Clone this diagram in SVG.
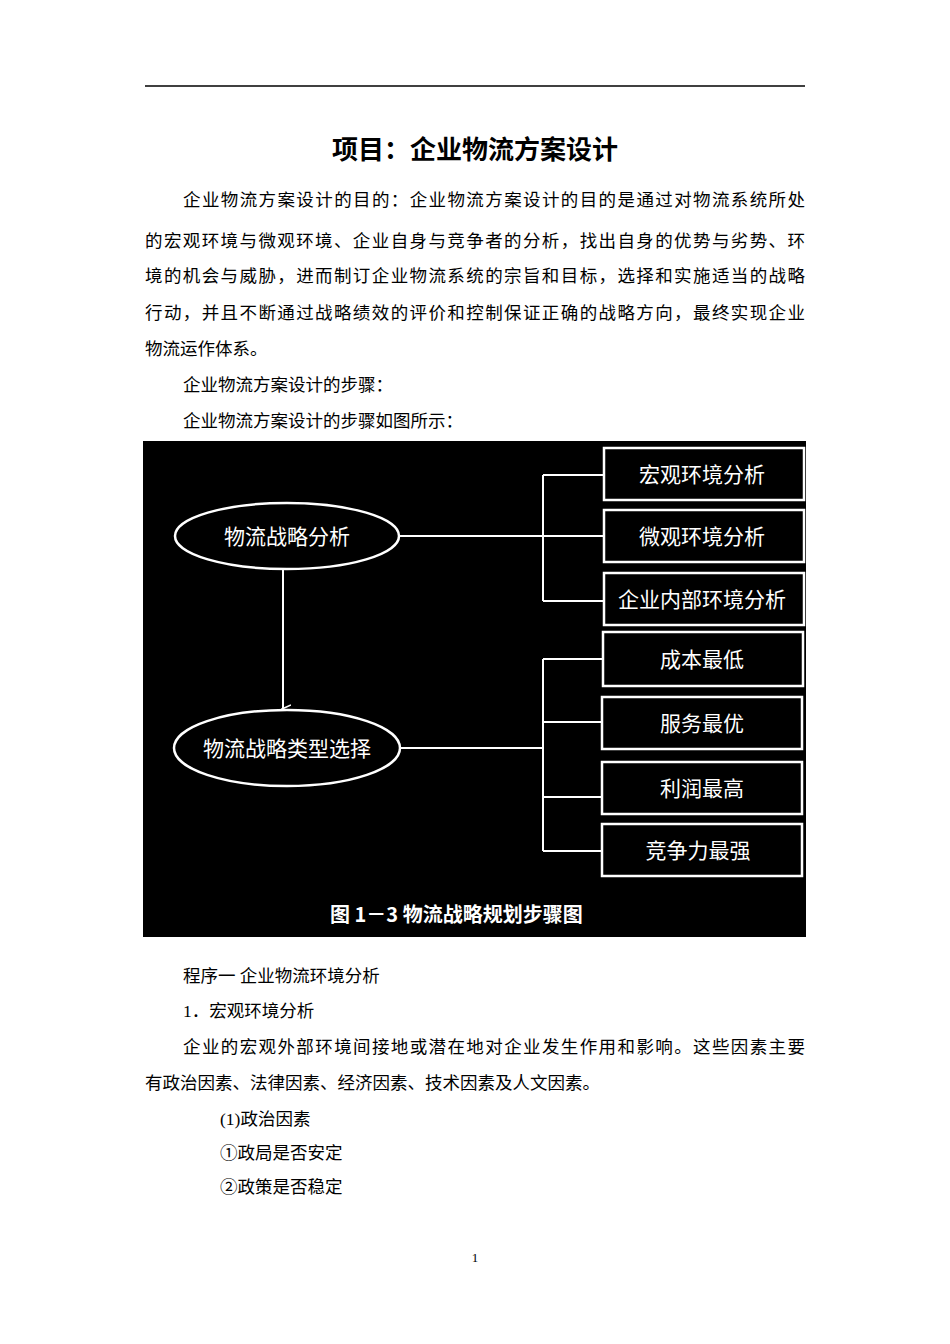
<svg xmlns="http://www.w3.org/2000/svg" width="950" height="1344" viewBox="0 0 950 1344">
<style>
.b{font-family:"Liberation Serif","Noto Sans CJK SC",serif;font-size:17.5px;fill:#000}
.n{font-family:"Noto Sans CJK SC",sans-serif;font-size:21px;fill:#fff;text-anchor:middle}
.box{fill:#000;stroke:#fff;stroke-width:2.5}
.c{stroke:#fff;stroke-width:2;fill:none}
</style>
<defs><marker id="a" markerWidth="10" markerHeight="10" refX="5" refY="8" orient="auto" markerUnits="userSpaceOnUse"><path d="M1,0 L5,9 L9,0" fill="none" stroke="#fff" stroke-width="1.5"/></marker></defs>
<rect width="950" height="1344" fill="#fff"/>
<line x1="145" y1="86" x2="805" y2="86" stroke="#000" stroke-width="1.5"/>
<text x="475" y="159" text-anchor="middle" style="font-family:'Noto Sans CJK SC',sans-serif;font-size:26px;font-weight:bold">项目：企业物流方案设计</text>
<text class="b" x="183" y="206" textLength="622">企业物流方案设计的目的：企业物流方案设计的目的是通过对物流系统所处</text>
<text class="b" x="145" y="247" textLength="660">的宏观环境与微观环境、企业自身与竞争者的分析，找出自身的优势与劣势、环</text>
<text class="b" x="145" y="282" textLength="660">境的机会与威胁，进而制订企业物流系统的宗旨和目标，选择和实施适当的战略</text>
<text class="b" x="145" y="319" textLength="660">行动，并且不断通过战略绩效的评价和控制保证正确的战略方向，最终实现企业</text>
<text class="b" x="145" y="355">物流运作体系。</text>
<text class="b" x="183" y="391">企业物流方案设计的步骤：</text>
<text class="b" x="183" y="427">企业物流方案设计的步骤如图所示：</text>
<rect x="143" y="441" width="663" height="496" fill="#000"/>
<g id="connectors">
<line class="c" x1="399" y1="536" x2="604" y2="536"/>
<line class="c" x1="543" y1="475" x2="543" y2="601"/>
<line class="c" x1="543" y1="475" x2="604" y2="475"/>
<line class="c" x1="543" y1="601" x2="604" y2="601"/>
<line class="c" x1="400" y1="748" x2="543" y2="748"/>
<line class="c" x1="543" y1="659" x2="543" y2="851"/>
<line class="c" x1="543" y1="659" x2="603" y2="659"/>
<line class="c" x1="543" y1="722" x2="602" y2="722"/>
<line class="c" x1="543" y1="797" x2="602" y2="797"/>
<line class="c" x1="543" y1="851" x2="602" y2="851"/>
<line class="c" x1="283" y1="570" x2="283" y2="709" marker-end="url(#a)"/>
</g>
<g id="e1"><ellipse class="box" cx="287" cy="536" rx="112" ry="33"/><text class="n" x="287" y="544">物流战略分析</text></g>
<g id="e2"><ellipse class="box" cx="287" cy="748" rx="113" ry="38"/><text class="n" x="287" y="756">物流战略类型选择</text></g>
<g id="b1"><rect class="box" x="604" y="448" width="200" height="52"/><text class="n" x="702" y="482">宏观环境分析</text></g>
<g id="b2"><rect class="box" x="604" y="510" width="200" height="52"/><text class="n" x="702" y="544">微观环境分析</text></g>
<g id="b3"><rect class="box" x="604" y="573" width="200" height="52"/><text class="n" x="702" y="607">企业内部环境分析</text></g>
<g id="b4"><rect class="box" x="603" y="632" width="200" height="54"/><text class="n" x="702" y="667">成本最低</text></g>
<g id="b5"><rect class="box" x="602" y="697" width="200" height="52"/><text class="n" x="702" y="731">服务最优</text></g>
<g id="b6"><rect class="box" x="602" y="762" width="200" height="52"/><text class="n" x="702" y="796">利润最高</text></g>
<g id="b7"><rect class="box" x="602" y="824" width="200" height="52"/><text class="n" x="698" y="858">竞争力最强</text></g>
<text x="330" y="922" style="font-family:'Noto Sans CJK SC',sans-serif;font-size:20px;font-weight:bold;fill:#fff">图 1－3   物流战略规划步骤图</text>
<text class="b" x="183" y="982">程序一  企业物流环境分析</text>
<text class="b" x="183" y="1017">1．宏观环境分析</text>
<text class="b" x="183" y="1053" textLength="622">企业的宏观外部环境间接地或潜在地对企业发生作用和影响。这些因素主要</text>
<text class="b" x="145" y="1089">有政治因素、法律因素、经济因素、技术因素及人文因素。</text>
<text class="b" x="220" y="1125">(1)政治因素</text>
<text class="b" x="220" y="1159">①政局是否安定</text>
<text class="b" x="220" y="1193">②政策是否稳定</text>
<text x="475" y="1262" text-anchor="middle" style="font-family:'Liberation Serif',serif;font-size:13px">1</text>
</svg>
